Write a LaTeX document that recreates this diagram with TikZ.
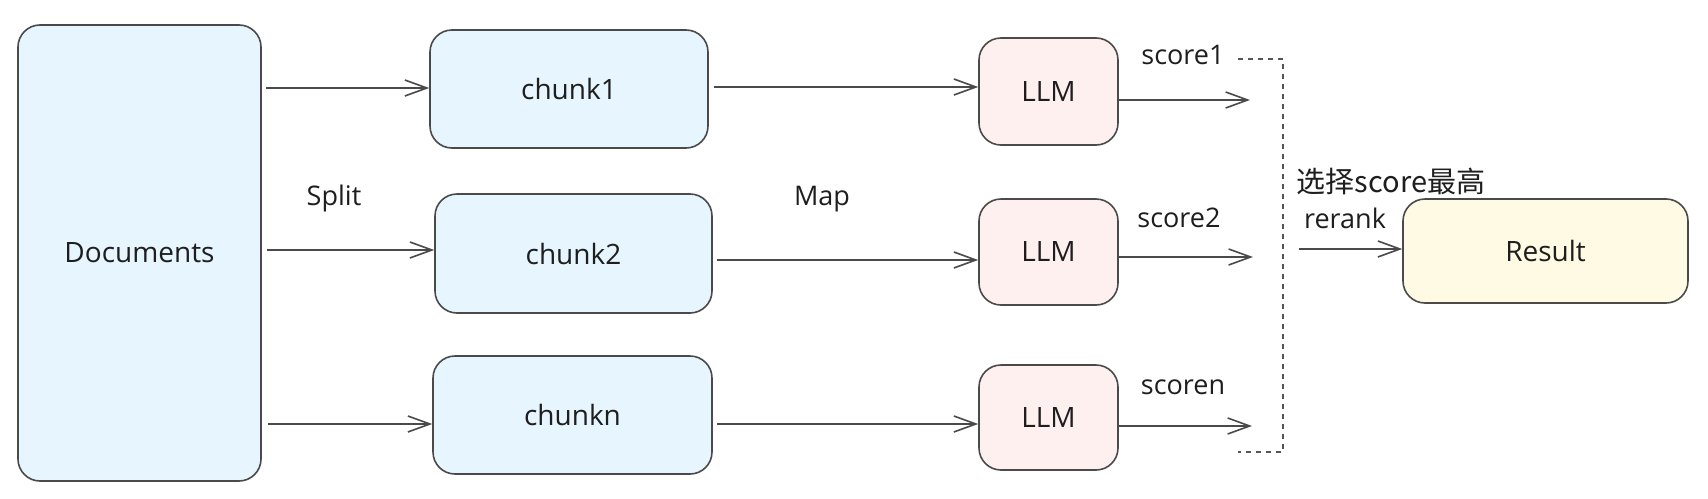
\documentclass[tikz,border=0pt]{standalone}
\usepackage{fontspec}
\setmainfont{Open Sans}
\newfontfamily\cjkfont{Noto Sans CJK SC}
\usetikzlibrary{arrows.meta,calc}
\definecolor{edge}{HTML}{4A4A4A}
\definecolor{bluefill}{HTML}{E7F5FF}
\definecolor{pinkfill}{HTML}{FFF0F0}
\definecolor{yellowfill}{HTML}{FFFAE3}
\definecolor{ink}{HTML}{1E1E1E}
\definecolor{dashc}{HTML}{555555}
\begin{document}
\begin{tikzpicture}[x=1pt,y=-1pt,
  box/.style={draw=edge, line width=1.6pt, rounded corners=22pt, inner sep=0pt,
    font=\fontsize{28}{32}\selectfont, text=ink},
  bluebox/.style={box, fill=bluefill},
  pinkbox/.style={box, fill=pinkfill},
  yellowbox/.style={box, fill=yellowfill},
  arr/.style={draw=edge, line width=1.6pt,
    -{Straight Barb[length=22pt,width=16pt,line width=1.6pt]}},
  dashline/.style={draw=dashc, line width=1.3pt, dash pattern=on 5pt off 5pt},
  lbl/.style={font=\fontsize{27}{31}\selectfont, text=ink, inner sep=0pt},
]
\fill[white] (0,0) rectangle (1708,498);
\useasboundingbox (0,0) rectangle (1708,498);

% boxes
\node[bluebox, minimum width=243pt, minimum height=456pt] (docs) at (139.5,253) {Documents};
\node[bluebox, minimum width=278pt, minimum height=118pt] (c1) at (569,89) {chunk1};
\node[bluebox, minimum width=277pt, minimum height=119pt] (c2) at (573.5,253.5) {chunk2};
\node[bluebox, minimum width=279pt, minimum height=118pt] (cn) at (572.5,415) {chunkn};
\node[pinkbox, minimum width=139pt, minimum height=107pt] (llm1) at (1048.5,91.5) {LLM};
\node[pinkbox, minimum width=139pt, minimum height=106pt] (llm2) at (1048.5,252) {LLM};
\node[pinkbox, minimum width=139pt, minimum height=105pt] (llmn) at (1048.5,417.5) {LLM};
\node[yellowbox, minimum width=285pt, minimum height=104pt] (res) at (1545.5,251) {Result};

% split arrows
\coordinate (s1) at ([yshift=1pt]c1.west);
\coordinate (s2) at ([yshift=3.5pt]c2.west);
\coordinate (sn) at ([yshift=-9pt]cn.west);
\draw[arr, shorten <=4pt] (docs.east |- s1) -- (s1);
\draw[arr, shorten <=5pt] (docs.east |- s2) -- (s2);
\draw[arr, shorten <=6pt] (docs.east |- sn) -- (sn);

% map arrows
\coordinate (m1) at ([yshift=2pt]c1.east);
\coordinate (m2) at ([yshift=-6.5pt]c2.east);
\coordinate (mn) at ([yshift=-9pt]cn.east);
\draw[arr, shorten <=5pt] (m1) -- (m1 -| llm1.west);
\draw[arr, shorten <=4pt] (m2) -- (m2 -| llm2.west);
\draw[arr, shorten <=4pt] (mn) -- (mn -| llmn.west);

% score arrows (free ends)
\coordinate (o1) at (1250,100);
\coordinate (o2) at (1253,257);
\coordinate (on) at (1252,426);
\draw[arr] (llm1.east |- o1) -- (o1);
\draw[arr] (llm2.east |- o2) -- (o2);
\draw[arr] (llmn.east |- on) -- (on);

% dashed bracket
\coordinate (d1) at (1238,59);
\coordinate (d2) at (1283,59);
\coordinate (d3) at (1283,452);
\coordinate (d4) at (1238,452);
\draw[dashline] (d1) -- (d2) -- (d3) -- (d4);

% rerank arrow
\coordinate (rr) at (1299,249);
\draw[arr] (rr) -- (rr -| res.west);

% labels
\node[lbl] (split) at (334,198) {Split};
\node[lbl] (map) at (822,199) {Map};
\node[lbl] (sc1) at (1183,55) {score1};
\node[lbl] (sc2) at (1179,218) {score2};
\node[lbl] (scn) at (1183,387) {scoren};
\node[lbl] (rerank) at (1345,218) {rerank};
\node[inner sep=0pt, text=ink, font=\cjkfont\fontsize{29}{34}\selectfont] (pick) at (1391,181) {选择score最高};
\end{tikzpicture}
\end{document}
